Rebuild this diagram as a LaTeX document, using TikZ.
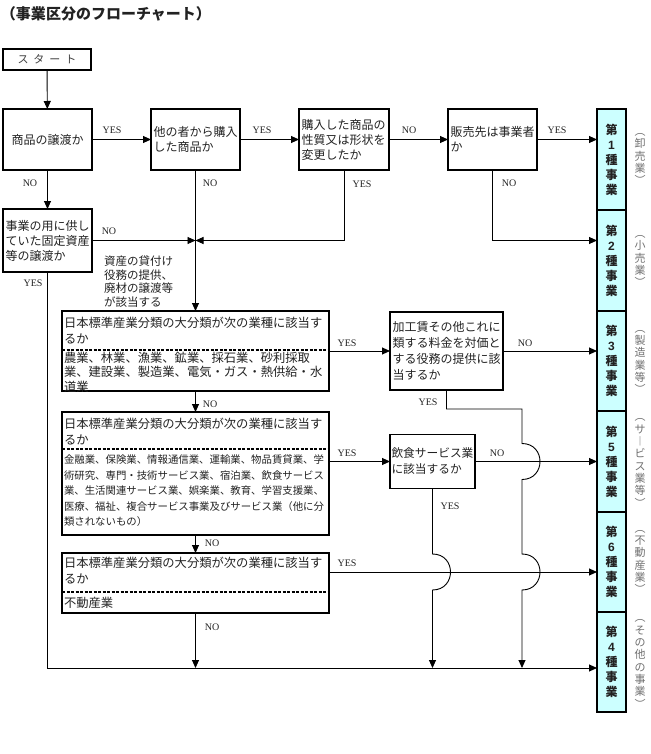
\documentclass[tikz,border=0pt]{standalone}
\usepackage{fontspec}
\usepackage{graphicx}
\setmainfont{Noto Sans CJK JP}
\newfontfamily\ynfont{Liberation Serif}
\newfontfamily\digfont{Liberation Sans}
\usetikzlibrary{arrows.meta,calc}
\definecolor{barcyan}{HTML}{CCFFFF}
\definecolor{sidegray}{HTML}{707070}
\definecolor{txtgray}{HTML}{222222}
\begin{document}
\begin{tikzpicture}[x=1pt,y=-1pt,
  every node/.style={inner sep=0pt, outer sep=0pt, text=txtgray},
  box/.style={draw, line width=1.4pt, anchor=north west},
  qbox/.style={box, inner xsep=2.5pt, align=left, font=\fontsize{12}{15}\selectfont},
  arr/.style={line width=0.9pt, -{Triangle[length=8pt,width=7pt]}},
  ln/.style={line width=0.9pt},
  dsh/.style={line width=1.2pt, dash pattern=on 3pt off 1.5pt},
  lbl/.style={font=\ynfont\fontsize{10}{10}\selectfont},
  ttl/.style={anchor=north west, align=left, font=\fontsize{12.3}{16}\selectfont},
  seg/.style={draw, line width=1.4pt, fill=barcyan, minimum width=29pt, anchor=north west, align=center, font=\bfseries\fontsize{12}{15}\selectfont},
  side/.style={text=sidegray, align=center, font=\fontsize{11}{12.3}\selectfont},
]
\useasboundingbox (0,0) rectangle (650,754);

% title
\node[anchor=north west, font=\bfseries\fontsize{15}{15}\selectfont] (title) at (1,7) {（事業区分のフローチャート）};

% start
\node[box, line width=1.2pt, minimum width=88pt, minimum height=21pt, font=\fontsize{11}{11}\selectfont, text=darkgray] (start) at (3,49) {ス\hspace{5pt}タ\hspace{5pt}ー\hspace{5pt}ト};

% row 1
\node[qbox, align=center, minimum width=89pt, minimum height=61pt, text width=84pt] (b1) at (3,109) {商品の譲渡か};
\node[qbox, minimum width=89pt, minimum height=61pt, text width=84pt] (b2) at (151,109) {他の者から購入\\した商品か};
\node[qbox, minimum width=90pt, minimum height=61pt, text width=85pt] (b3) at (299,109) {購入した商品の\\性質又は形状を\\変更したか};
\node[qbox, minimum width=89pt, minimum height=61pt, text width=84pt] (b4) at (448,109) {販売先は事業者\\か};
\node[qbox, minimum width=89pt, minimum height=63pt, text width=84pt] (b5) at (3,209) {事業の用に供し\\ていた固定資産\\等の譲渡か};

% bar
\node[seg, minimum height=101pt] (s1) at (597,109) {第\\{\digfont 1}\\種\\事\\業};
\node[seg, minimum height=101pt] (s2) at (597,210) {第\\{\digfont 2}\\種\\事\\業};
\node[seg, minimum height=100pt] (s3) at (597,311) {第\\{\digfont 3}\\種\\事\\業};
\node[seg, minimum height=101pt] (s4) at (597,411) {第\\{\digfont 5}\\種\\事\\業};
\node[seg, minimum height=100pt] (s5) at (597,512) {第\\{\digfont 6}\\種\\事\\業};
\node[seg, minimum height=100pt] (s6) at (597,612) {第\\{\digfont 4}\\種\\事\\業};

% side labels
\node[side] (l1) at (640,159) {︵\\卸\\売\\業\\︶};
\node[side] (l2) at (640,261) {︵\\小\\売\\業\\︶};
\node[side] (l3) at (640,362) {︵\\製\\造\\業\\等\\︶};
\node[side] (l4) at (640,463) {︵\\サ\\︱\\ビ\\ス\\業\\等\\︶};
\node[side] (l5) at (640,562) {︵\\不\\動\\産\\業\\︶};
\node[side] (l6) at (640,664) {︵\\そ\\の\\他\\の\\事\\業\\︶};

% big boxes
\node[box, minimum width=267pt, minimum height=80pt] (bA) at (62,311) {};
\draw[dsh] (bA.west |- 0,350) -- (bA.east |- 0,350);
\node[ttl] (tA) at (64,317) {日本標準産業分類の大分類が次の業種に該当す\\るか};
\node[ttl, font=\fontsize{12.3}{14.5}\selectfont] (tA2) at (64,352) {農業、林業、漁業、鉱業、採石業、砂利採取\\業、建設業、製造業、電気・ガス・熱供給・水\\道業};

\node[box, minimum width=267pt, minimum height=123pt] (bB) at (62,412) {};
\draw[dsh] (bB.west |- 0,449) -- (bB.east |- 0,449);
\node[ttl] (tB) at (64,418) {日本標準産業分類の大分類が次の業種に該当す\\るか};
\node[ttl, font=\fontsize{10.4}{15.5}\selectfont] (tB2) at (64,455) {金融業、保険業、情報通信業、運輸業、物品賃貸業、学\\術研究、専門・技術サービス業、宿泊業、飲食サービス\\業、生活関連サービス業、娯楽業、教育、学習支援業、\\医療、福祉、複合サービス事業及びサービス業（他に分\\類されないもの）};

\node[box, minimum width=267pt, minimum height=60pt] (bC) at (62,553) {};
\draw[dsh] (bC.west |- 0,592) -- (bC.east |- 0,592);
\node[ttl] (tC) at (64,557) {日本標準産業分類の大分類が次の業種に該当す\\るか};
\node[ttl] (tC2) at (64,597) {不動産業};

% side question boxes
\node[qbox, minimum width=113pt, minimum height=78pt, text width=108pt, font=\fontsize{12}{16}\selectfont] (ka) at (390,312) {加工賃その他これに\\類する料金を対価と\\する役務の提供に該\\当するか};
\node[qbox, minimum width=85pt, minimum height=54pt, text width=82pt, inner xsep=1.5pt, font=\fontsize{11.7}{16}\selectfont] (in) at (390,434.5) {飲食サービス業\\に該当するか};

% note
\node[anchor=north west, align=left, font=\fontsize{11.5}{13.5}\selectfont] (note) at (104,256) {資産の貸付け\\役務の提供、\\廃材の譲渡等\\が該当する};

% coordinates
\coordinate (j) at (b2.south |- b5.east);
\coordinate (yb) at (0,668);
\coordinate (yc) at (0,572);
\coordinate (yk) at (0,409);
\coordinate (vx) at (522,0);

% connectors
\draw[arr] (start) -- (b1);
\draw[arr] (b1) -- (b2);
\draw[arr] (b2) -- (b3);
\draw[arr] (b3) -- (b4);
\draw[arr] (b4) -- (b4 -| s1.west);
\draw[arr] (b1) -- (b5);
\draw[arr] (b5.east) -- (j);
\draw[arr] (b3.south) |- (j);
\draw[arr] (b2.south) -- (bA.north);
\draw[arr] (b4.south) |- (s2.west |- j);
\draw[arr] (b5.south) |- (s6.west |- yb);
\draw[arr] (bA.east |- ka.west) -- (ka.west);
\draw[arr] (ka.east) -- (ka.east -| s3.west);
\draw[arr] (bA.south) -- (bB.north);
\draw[arr] (bB.south) -- (bC.north);
\draw[arr] (bC.south) -- (bC.south |- yb);
\draw[arr] (bB.east |- in.west) -- (in.west);
\draw[arr] (in.east) -- (in.east -| s4.west);
\draw[arr] (bC.east |- yc) -- (s5.west |- yc);
% YES from ka with hops
\draw[arr] (ka.south) -- (ka.south |- yk) -- (vx |- yk)
  -- ($(vx |- in.east)+(0,-18)$) .. controls ($(vx |- in.east)+(24,-18)$) and ($(vx |- in.east)+(24,18)$) .. ($(vx |- in.east)+(0,18)$)
  -- ($(vx |- yc)+(0,-18)$) .. controls ($(vx |- yc)+(24,-18)$) and ($(vx |- yc)+(24,18)$) .. ($(vx |- yc)+(0,18)$)
  -- (vx |- yb);
% YES from in with hop
\draw[arr] (in.south)
  -- ($(in.south |- yc)+(0,-18)$) .. controls ($(in.south |- yc)+(24,-18)$) and ($(in.south |- yc)+(24,18)$) .. ($(in.south |- yc)+(0,18)$)
  -- (in.south |- yb);

% labels
\node[lbl] (y1) at (112,130) {YES};
\node[lbl] (y2) at (262,130) {YES};
\node[lbl] (n3) at (409,130) {NO};
\node[lbl] (y4) at (557,130) {YES};
\node[lbl] (n1) at (30,183) {NO};
\node[lbl] (n2) at (210,183) {NO};
\node[lbl] (y3) at (362,184) {YES};
\node[lbl] (n4) at (509,183) {NO};
\node[lbl] (n5) at (109,231) {NO};
\node[lbl] (y5) at (33,283) {YES};
\node[lbl] (yA) at (347,343) {YES};
\node[lbl] (nk) at (525,343) {NO};
\node[lbl] (nA) at (210,404) {NO};
\node[lbl] (yk2) at (428,402) {YES};
\node[lbl] (yB) at (347,453) {YES};
\node[lbl] (ni) at (497,453) {NO};
\node[lbl] (yi) at (450,506) {YES};
\node[lbl] (nB) at (212,543) {NO};
\node[lbl] (yC) at (347,563) {YES};
\node[lbl] (nC) at (212,627) {NO};
\end{tikzpicture}
\end{document}
